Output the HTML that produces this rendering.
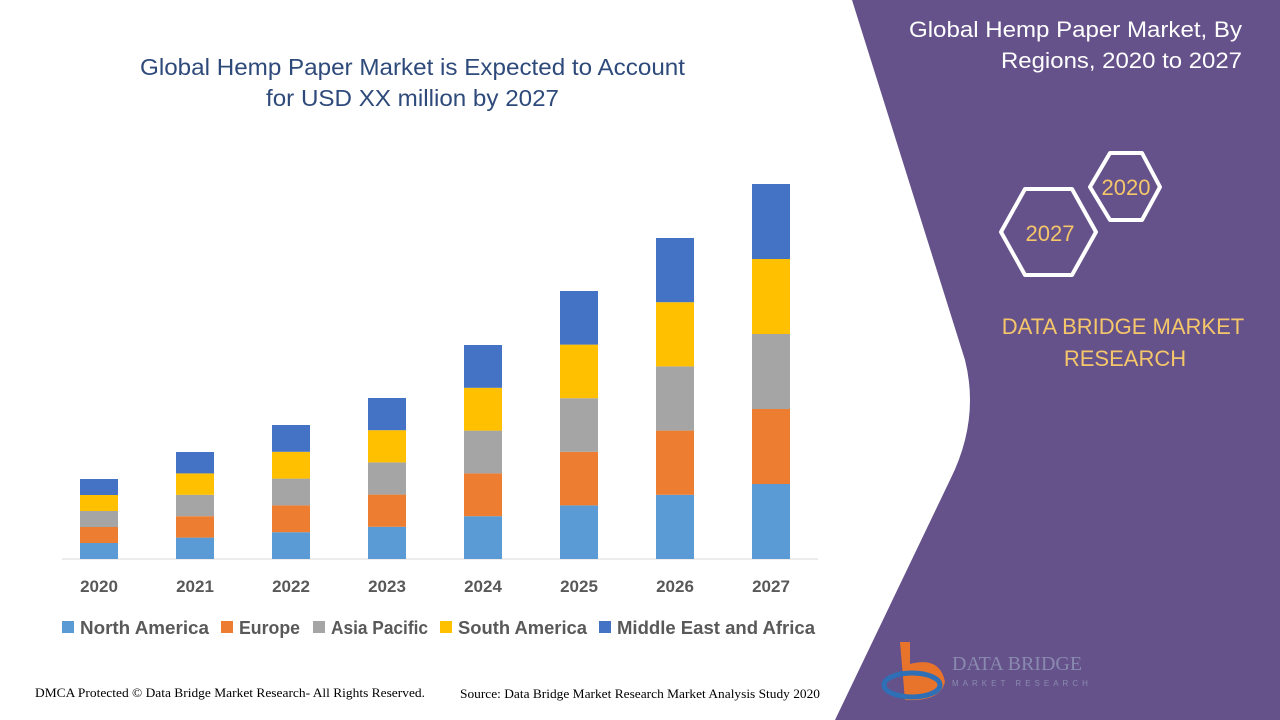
<!DOCTYPE html>
<html><head><meta charset="utf-8"><style>
body{margin:0;width:1280px;height:720px;overflow:hidden;background:#fff;font-family:"Liberation Sans",sans-serif;position:relative}
</style></head><body>
<svg width="1280" height="720" style="position:absolute;left:0;top:0">
<path d="M852 0 L1280 0 L1280 720 L835 720 L950 480 Q980 420 965 360 Z" fill="#65528a"/>
<g font-family="Liberation Sans, sans-serif">
<text x="140" y="75" font-size="23" fill="#2e4a7a" textLength="545" lengthAdjust="spacingAndGlyphs">Global Hemp Paper Market is Expected to Account</text>
<text x="266" y="106" font-size="23" fill="#2e4a7a" textLength="293" lengthAdjust="spacingAndGlyphs">for USD XX  million by 2027</text>
<text x="909" y="37" font-size="22" fill="#fff" textLength="333" lengthAdjust="spacingAndGlyphs">Global Hemp Paper Market, By</text>
<text x="1001" y="68" font-size="22" fill="#fff" textLength="241" lengthAdjust="spacingAndGlyphs">Regions, 2020 to 2027</text>
<polygon points="1110,153 1142,153 1160,187 1142,220 1110,220 1090,187" fill="none" stroke="#fff" stroke-width="4" stroke-linejoin="round"/>
<polygon points="1025,189 1072,189 1096,232 1072,275 1025,275 1001,232" fill="none" stroke="#fff" stroke-width="4" stroke-linejoin="round"/>
<text x="1126" y="195" font-size="22" fill="#f5c66a" text-anchor="middle">2020</text>
<text x="1050" y="241" font-size="22" fill="#f5c66a" text-anchor="middle">2027</text>
<text x="1123" y="334" font-size="22" fill="#f5c66a" text-anchor="middle">DATA BRIDGE MARKET</text>
<text x="1125" y="366" font-size="22" fill="#f5c66a" text-anchor="middle">RESEARCH</text>
<path d="M900 642 h10 v22 q30-8 35 18 q-5 20-40 18 z" fill="#e8742c"/>
<ellipse cx="912" cy="685" rx="28" ry="12" fill="none" stroke="#2e6fb6" stroke-width="5"/>
<text x="952" y="670" font-size="20" fill="#8a8ab0" font-family="Liberation Serif, serif">DATA BRIDGE</text>
<text x="952" y="686" font-size="8" fill="#8a8ab0" letter-spacing="4">MARKET RESEARCH</text>
<line x1="62" y1="559" x2="818" y2="559" stroke="#d9d9d9"/>
<g id="bars"></g>
<g font-size="17" font-weight="bold" fill="#595959" text-anchor="middle">
<text x="99" y="592">2020</text><text x="195" y="592">2021</text><text x="291" y="592">2022</text><text x="387" y="592">2023</text><text x="483" y="592">2024</text><text x="579" y="592">2025</text><text x="675" y="592">2026</text><text x="771" y="592">2027</text>
</g>
<g font-size="18" font-weight="bold" fill="#595959">
<rect x="62" y="621" width="12" height="12" fill="#5b9bd5"/><text x="80" y="634" textLength="129" lengthAdjust="spacingAndGlyphs">North America</text>
<rect x="221" y="621" width="12" height="12" fill="#ed7d31"/><text x="239" y="634" textLength="61" lengthAdjust="spacingAndGlyphs">Europe</text>
<rect x="313" y="621" width="12" height="12" fill="#a5a5a5"/><text x="331" y="634" textLength="97" lengthAdjust="spacingAndGlyphs">Asia Pacific</text>
<rect x="440" y="621" width="12" height="12" fill="#ffc000"/><text x="458" y="634" textLength="129" lengthAdjust="spacingAndGlyphs">South America</text>
<rect x="599" y="621" width="12" height="12" fill="#4472c4"/><text x="617" y="634" textLength="198" lengthAdjust="spacingAndGlyphs">Middle East and Africa</text>
</g>
<text x="35" y="697" font-size="13" fill="#000" font-family="Liberation Serif, serif" textLength="390" lengthAdjust="spacingAndGlyphs">DMCA Protected © Data Bridge Market Research- All Rights Reserved.</text>
<text x="460" y="698" font-size="13" fill="#000" font-family="Liberation Serif, serif" textLength="360" lengthAdjust="spacingAndGlyphs">Source: Data Bridge Market Research Market Analysis Study 2020</text>
</g>
</svg>
<script>
var xs=[99,195,291,387,483,579,675,771],tops=[479,452,425,398,345,291,238,184],c=["#5b9bd5","#ed7d31","#a5a5a5","#ffc000","#4472c4"],g=document.getElementById("bars"),s="";
for(var i=0;i<8;i++){var h=(559-tops[i])/5;for(var k=0;k<5;k++){s+='<rect x="'+(xs[i]-19)+'" y="'+(559-h*(k+1))+'" width="38" height="'+h+'" fill="'+c[k]+'"/>';}}
g.innerHTML=s;
</script>
</body></html>
